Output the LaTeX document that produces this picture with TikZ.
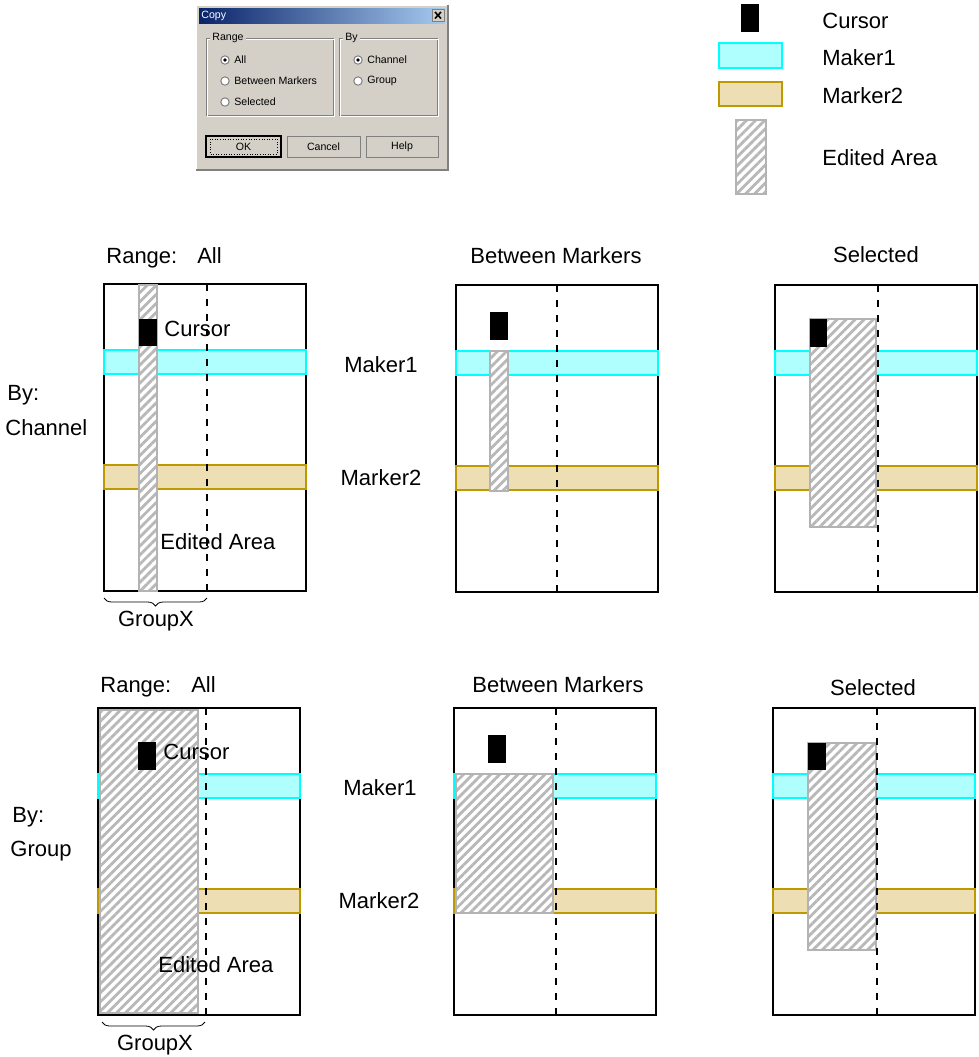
\documentclass[tikz,border=0pt]{standalone}
\usepackage{fontspec}
\setmainfont{Liberation Sans}
\usetikzlibrary{patterns.meta,decorations.pathreplacing}

\definecolor{makerfill}{HTML}{B0FFFF}
\definecolor{makerline}{HTML}{00FFFF}
\definecolor{markerfill}{HTML}{EDDFB3}
\definecolor{markerline}{HTML}{BF9900}
\definecolor{editline}{HTML}{B3B3B3}
\definecolor{hatch}{HTML}{B8B8B8}
\definecolor{dlgface}{HTML}{D4D0C8}
\definecolor{dlgdark}{HTML}{808080}
\definecolor{titleleft}{HTML}{0A246A}
\definecolor{titleright}{HTML}{A6CAF0}

\tikzset{
  frame/.style={draw=black, line width=1pt},
  makerband/.style={draw=makerline, fill=makerfill, line width=0.8pt},
  markerband/.style={draw=markerline, fill=markerfill, line width=0.8pt},
  edited/.style={draw=editline, line width=1pt, preaction={fill=white},
    pattern={Lines[angle=45,distance=3.2pt,line width=1.4pt]}, pattern color=hatch},
  cursorbox/.style={fill=black},
  midline/.style={line width=1pt, dash pattern=on 3.5pt off 4pt},
  lbl/.style={font=\fontsize{11}{13}\selectfont, inner sep=0pt, text height=7.9pt, text depth=0pt},
  dlgtext/.style={font=\fontsize{5.3}{6}\selectfont, inner sep=0pt},
  radio/.style={fill=white, draw=dlgdark, line width=0.5pt},
  button/.style={fill=dlgface, draw=dlgdark, line width=0.5pt},
}

\begin{document}
\begin{tikzpicture}[x=0.5pt, y=-0.5pt]
  \useasboundingbox (0,0) rectangle (979,1057);

  % copy dialog
  \fill[dlgface] (196,5) rectangle (448,170);
  \draw[white, line width=0.6pt] (196,170) -- (196,5) -- (448,5);
  \draw[dlgdark, line width=0.8pt] (196,170) -- (448,170) -- (448,5);
  \shade[left color=titleleft, right color=titleright] (199,8) rectangle (445,23);
  \node[dlgtext, white, anchor=west] (dlgtitle) at (201,15.5) {Copy};
  \draw[button] (432,9) rectangle (444,21);
  \draw[line width=0.8pt] (435,12) -- (441,18.5) (441,12) -- (435,18.5);
  \draw[dlgdark, line width=0.4pt] (206,38) rectangle (333,115);
  \draw[white, line width=0.4pt] (207,39) rectangle (334,116);
  \draw[dlgdark, line width=0.4pt] (339,38) rectangle (437,115);
  \draw[white, line width=0.4pt] (340,39) rectangle (438,116);
  \node[dlgtext, fill=dlgface, inner xsep=1pt, anchor=west] (rangebox) at (210,38) {Range};
  \node[dlgtext, fill=dlgface, inner xsep=1pt, anchor=west] (bybox) at (343,38) {By};
  \foreach \ry/\rt/\rn in {60/All/rall, 81/Between Markers/rbm, 102/Selected/rsel}{
    \draw[radio] (225,\ry) circle[radius=2.1pt];
    \node[dlgtext, anchor=west] (\rn) at (234,\ry) {\rt};
  }
  \foreach \ry/\rt/\rn in {60/Channel/rch, 81/Group/rgr}{
    \draw[radio] (358,\ry) circle[radius=2.1pt];
    \node[dlgtext, anchor=west] (\rn) at (367,\ry) {\rt};
  }
  \fill (225,60) circle[radius=0.9pt];
  \fill (358,60) circle[radius=0.9pt];
  \draw[button, draw=black, line width=0.8pt] (206,136) rectangle (281,157);
  \draw[densely dotted, line width=0.3pt] (210,139) rectangle (277,154);
  \node[dlgtext] (okbtn) at (243.5,146.5) {OK};
  \draw[button] (287,136) rectangle (360,157);
  \node[dlgtext] (cancelbtn) at (323.5,146.5) {Cancel};
  \draw[button] (366,136) rectangle (438,157);
  \node[dlgtext] (helpbtn) at (402,146.5) {Help};

  % legend
  \fill[cursorbox] (741,4) rectangle (759,32);
  \draw[makerband] (719,43) rectangle (782,68);
  \draw[markerband] (719,82) rectangle (782,106);
  \draw[edited] (736,120) rectangle (766,194);
  \node[lbl, anchor=west] (lgcursor) at (822,20.5) {Cursor};
  \node[lbl, anchor=west] (lgmaker) at (822,58) {Maker1};
  \node[lbl, anchor=west] (lgmarker) at (822,96) {Marker2};
  \node[lbl, anchor=west] (lgedited) at (822,158) {Edited Area};

  % panels: frame and bands
  \foreach \px/\py in {104/284, 456/285, 775/285, 98/708, 454/708, 773/708}{
    \begin{scope}[shift={(\px,\py)}]
      \draw[frame] (0,0) rectangle (202,307);
      \draw[makerband] (0,66) rectangle (202,90);
      \draw[markerband] (0,181) rectangle (202,205);
    \end{scope}
  }

  % edited areas
  \draw[edited] (139,285) rectangle (157,591);
  \draw[edited] (490,351) rectangle (508,491);
  \draw[edited] (810,319) rectangle (876,527);
  \draw[edited] (100,710) rectangle (198,1013);
  \draw[edited] (456,774) rectangle (553,913);
  \draw[edited] (808,743) rectangle (876,950);

  % middle lines
  \foreach \dx/\dy in {207/284, 557/285, 878/285, 206/708, 556/708, 877/708}
    \draw[midline] (\dx,\dy) -- (\dx,\dy+307);

  % cursors
  \fill[cursorbox] (139,319) rectangle (157,346);
  \fill[cursorbox] (490,312) rectangle (508,340);
  \fill[cursorbox] (810,319) rectangle (827,347);
  \fill[cursorbox] (138,742) rectangle (156,770);
  \fill[cursorbox] (488,735) rectangle (506,763);
  \fill[cursorbox] (808,743) rectangle (826,770);

  % titles
  \node[lbl, anchor=west] (allch) at (106,256) {Range:\hspace{10pt}All};
  \node[lbl] (bmch) at (556,256) {Between Markers};
  \node[lbl] (selch) at (876,255) {Selected};
  \node[lbl, anchor=west] (allgr) at (100,685) {Range:\hspace{10pt}All};
  \node[lbl] (bmgr) at (558,685) {Between Markers};
  \node[lbl] (selgr) at (873,688) {Selected};

  % row labels
  \node[lbl, anchor=west] (bych) at (7,393) {By:};
  \node[lbl, anchor=west] (channel) at (5,428) {Channel};
  \node[lbl, anchor=west] (bygr) at (12,815) {By:};
  \node[lbl, anchor=west] (group) at (10,849) {Group};
  \node[lbl] (makerch) at (381,365) {Maker1};
  \node[lbl] (markerch) at (381,478) {Marker2};
  \node[lbl] (makergr) at (380,788) {Maker1};
  \node[lbl] (markergr) at (379,901) {Marker2};

  % labels inside the All panels
  \node[lbl, anchor=west] (cursorch) at (164,329) {Cursor};
  \node[lbl, anchor=west] (editedch) at (160,542) {Edited Area};
  \node[lbl, anchor=west] (cursorgr) at (163,752) {Cursor};
  \node[lbl, anchor=west] (editedgr) at (158,965) {Edited Area};

  % group braces
  \coordinate (bracechl) at (104,598);
  \coordinate (bracechr) at (207,598);
  \coordinate (bracegrl) at (102,1022);
  \coordinate (bracegrr) at (205,1022);
  \draw[line width=0.4pt, decorate, decoration={brace, mirror, amplitude=4pt}] (bracechl) -- (bracechr);
  \draw[line width=0.4pt, decorate, decoration={brace, mirror, amplitude=4pt}] (bracegrl) -- (bracegrr);
  \node[lbl] (groupxch) at (156,619) {GroupX};
  \node[lbl] (groupxgr) at (155,1043) {GroupX};
\end{tikzpicture}
\end{document}
